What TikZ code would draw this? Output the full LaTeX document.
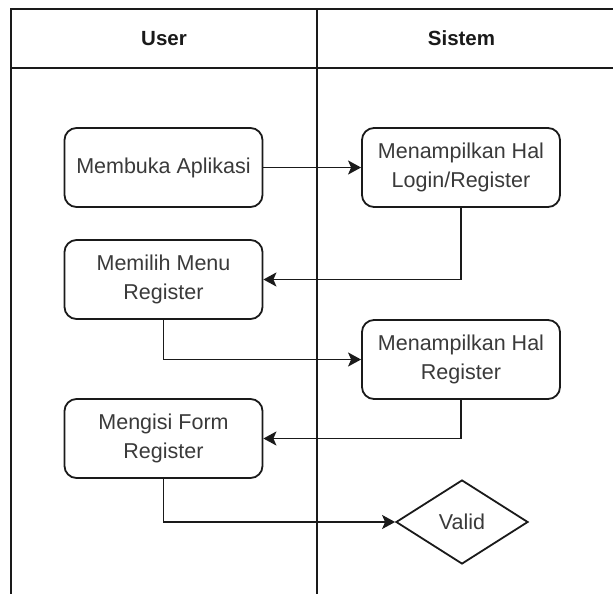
\documentclass[tikz,border=0pt]{standalone}
\usepackage{fontspec}
\setmainfont{Liberation Sans}
\usetikzlibrary{shapes.geometric,arrows.meta}
\definecolor{inkc}{HTML}{1A1A1A}
\definecolor{txtc}{HTML}{3A3A3A}
\begin{document}
\begin{tikzpicture}[x=1pt,y=-1pt,
  lane/.style={draw=inkc,line width=2pt},
  actbox/.style={draw=inkc,line width=1.8pt,rounded corners=12pt,minimum width=198pt,minimum height=79pt,
    align=center,text=txtc,inner sep=0pt,font=\fontsize{21.5}{29}\selectfont},
  decbox/.style={draw=inkc,line width=1.8pt,diamond,aspect=1.57,minimum width=132pt,minimum height=84pt,
    inner sep=0pt,text=txtc,font=\fontsize{21.5}{29}\selectfont},
  hdr/.style={font=\bfseries\fontsize{20.5}{24}\selectfont,text=inkc},
  flow/.style={draw=inkc,line width=1.8pt,-{Stealth[length=13pt,width=14pt,inset=3pt]}}]
\useasboundingbox (0,0) rectangle (613,594);
\fill[white] (0,0) rectangle (613,594);
% swimlane frame
\coordinate (tl) at (10.7,9);
\coordinate (tr) at (613,9);
\coordinate (hl) at (10.7,68);
\coordinate (hr) at (613,68);
\coordinate (bl) at (10.7,594);
\coordinate (dt) at (317,9);
\coordinate (db) at (317,594);
\draw[lane] (tr) -- (tl) -- (bl);
\draw[lane] (hl) -- (hr);
\draw[lane] (dt) -- (db);
\node[hdr] (huser) at (164,38.5) {User};
\node[hdr] (hsis) at (461.5,38.5) {Sistem};
% activities
\node[actbox] (a1) at (163.5,167.5) {Membuka Aplikasi};
\node[actbox] (a2) at (461,167.5) {Menampilkan Hal\\Login/Register};
\node[actbox] (a3) at (163.5,279.5) {Memilih Menu\\Register};
\node[actbox] (a4) at (461,359.5) {Menampilkan Hal\\Register};
\node[actbox] (a5) at (163.5,438.5) {Mengisi Form\\Register};
\node[decbox] (d1) at (462,522) {Valid};
% connectors
\draw[flow] (a1) -- (a2);
\draw[flow] (a2.south) |- (a3.east);
\draw[flow] (a3.south) |- (a4.west);
\draw[flow] (a4.south) |- (a5.east);
\draw[flow] (a5.south) |- (d1.west);
\end{tikzpicture}
\end{document}
